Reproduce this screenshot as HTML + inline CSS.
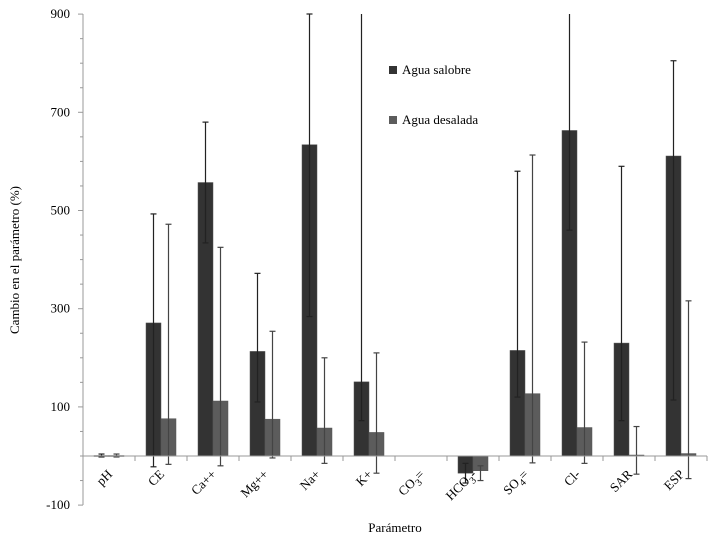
<!DOCTYPE html>
<html><head><meta charset="utf-8"><style>
body{margin:0;background:#fff;}
svg text{font-family:"Liberation Serif",serif;fill:#000;}
</style></head><body>
<svg id="chart" width="719" height="543" xmlns="http://www.w3.org/2000/svg">
<g id="bars"></g>
<g id="errs"></g>
<g id="axes"></g>
<g id="legend">
 <rect x="389" y="66" width="8" height="8" fill="#333"/>
 <text x="402" y="74" font-size="13">Agua salobre</text>
 <rect x="389" y="116" width="8" height="8" fill="#5c5c5c"/>
 <text x="402" y="124" font-size="13">Agua desalada</text>
</g>
<text transform="translate(19,260) rotate(-90)" text-anchor="middle" font-size="13">Cambio en el parámetro (%)</text>
<text x="395" y="532" text-anchor="middle" font-size="13">Parámetro</text>
</svg>
<script>
const categories=["pH","CE","Ca++","Mg++","Na+","K+","CO3=","HCO3-","SO4=","Cl-","SAR","ESP"];
const salobre=[1,271,557,213,634,151,0,-35,215,663,230,611];
const salobreHi=[4,493,680,372,984,1000,0,-15,580,1000,590,805];
const salobreLo=[-2,-22,434,110,284,72,0,-55,120,460,72,114];
const desalada=[1,76,112,75,57,48,0,-30,127,58,2,5];
const desaladaHi=[4,472,425,254,200,210,0,-20,613,232,60,316];
const desaladaLo=[-2,-17,-20,-4,-15,-35,0,-50,-14,-15,-37,-46];
const yTicks=[-100,100,300,500,700,900];
const NS="http://www.w3.org/2000/svg";
const x0=83,band=52,yZero=456,k=0.491,yTop=14,yBottom=505;
const Y=v=>Math.max(yTop,yZero-v*k);
const X=i=>x0+band*i+band/2;
function mk(t,a,p){const e=document.createElementNS(NS,t);for(const n in a)e.setAttribute(n,a[n]);p.appendChild(e);return e;}
const bars=document.getElementById('bars'),errs=document.getElementById('errs'),axes=document.getElementById('axes');
function bar(i,v,off,col,name){
 const y1=Y(Math.max(v,0)),y2=Y(Math.min(v,0));
 const r=mk('rect',{x:X(i)+off,y:y1,width:15,height:Math.max(y2-y1,1),fill:col,stroke:'#555','stroke-width':0.5},bars);
 
 
}
function err(i,lo,hi,off,col,name){
 const cx=X(i)+off+7.5;const a=Y(hi),b=Y(lo);
 const g=mk('g',{stroke:col,'stroke-width':1.2},errs);
 
 
 mk('line',{x1:cx,x2:cx,y1:a,y2:b},g);
 if(hi<1000)mk('line',{x1:cx-3,x2:cx+3,y1:a,y2:a},g);
 mk('line',{x1:cx-3,x2:cx+3,y1:b,y2:b},g);
}
categories.forEach((c,i)=>{
 if(salobre[i]!==0||i===0){bar(i,salobre[i],-15,'#333','bar-salobre-'+i);}
 if(desalada[i]!==0||i===0){bar(i,desalada[i],0,'#5c5c5c','bar-desalada-'+i);}
 if(i!==6){err(i,salobreLo[i],salobreHi[i],-15,'#222','error-salobre-'+i);err(i,desaladaLo[i],desaladaHi[i],0,'#444','error-desalada-'+i);}
 const t=mk('text',{x:X(i)+4,y:475,'text-anchor':'end','font-size':13,transform:`rotate(-45 ${X(i)+4} 475)`},axes);
 const m=c.match(/^([A-Za-z]+)(\d)(.*)$/);
 if(m){
  const a=mk('tspan',{},t);a.textContent=m[1];
  const b=mk('tspan',{dy:4,'font-size':10},t);b.textContent=m[2];
  const d=mk('tspan',{dy:-4},t);d.textContent=m[3];
 } else t.textContent=c;
 
 
});
const ya=mk('line',{x1:x0,x2:x0,y1:yTop,y2:yBottom,stroke:'#999'},axes);


const xa=mk('line',{x1:x0,x2:x0+band*12,y1:yZero,y2:yZero,stroke:'#999'},axes);


for(let i=1;i<=12;i++)mk('line',{x1:x0+band*i,x2:x0+band*i,y1:yZero,y2:yZero+5,stroke:'#999'},axes);
for(let v=-100;v<=900;v+=50)mk('line',{x1:x0-((v+100)%200===0?5:3),x2:x0,y1:yZero-v*k,y2:yZero-v*k,stroke:'#999'},axes);
yTicks.forEach(v=>{const t=mk('text',{x:x0-13,y:yZero-v*k+4,'text-anchor':'end','font-size':13},axes);t.textContent=v;
 
 });
</script>
</body></html>
